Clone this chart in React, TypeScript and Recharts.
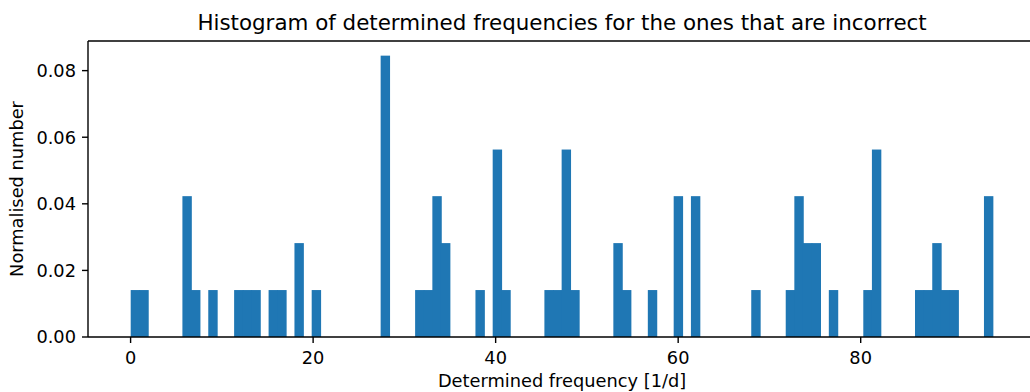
import React from "react"
import { BarChart, Bar, XAxis, YAxis, Label, ReferenceLine } from "recharts"

// histogram bins: 100 bins starting at binStart, width binWidth (1/d)
const binStart = 0.055
const binWidth = 0.9444

// non-empty bins (index) and their normalised height
const binIndex = [
  0, 1, 6, 7, 9, 12, 13, 14, 16, 17, 19, 21, 29, 33, 34, 35, 36, 40, 42, 43,
  48, 49, 50, 51, 56, 57, 60, 63, 65, 72, 76, 77, 78, 79, 81, 85, 86, 91, 92,
  93, 94, 95, 99
]
const density = [
  0.0141, 0.0141, 0.0423, 0.0141, 0.0141, 0.0141, 0.0141, 0.0141, 0.0141, 0.0141,
  0.0282, 0.0141, 0.0845, 0.0141, 0.0141, 0.0423, 0.0282, 0.0141, 0.0563, 0.0141,
  0.0141, 0.0141, 0.0563, 0.0141, 0.0282, 0.0141, 0.0141, 0.0423, 0.0423, 0.0141,
  0.0141, 0.0423, 0.0282, 0.0282, 0.0141, 0.0141, 0.0563, 0.0141, 0.0141, 0.0282,
  0.0141, 0.0141, 0.0423
]

const xTicks = [0, 20, 40, 60, 80]
const yTicks = [0, 0.02, 0.04, 0.06, 0.08]

const data = binIndex.map((b, i) => ({
  freq: binStart + (b + 0.5) * binWidth,
  value: density[i]
}))

const xDomain: [number, number] = [-4.667, 99.22]
const yDomain: [number, number] = [0, 0.0889]

const font = "DejaVu Sans, sans-serif"
const barColor = "#1f77b4"

const chartW = 1040
const chartH = 392
const margin = { top: 41, right: 3.9, left: 0, bottom: 0 }
const yAxisW = 88
const xAxisH = 55

// slight overlap so neighbouring bins don't show hairline seams
const HistBar = (props: any) => {
  const { x, y, width, height } = props
  if (!height) return null
  return <rect x={x - 0.4} y={y} width={width + 0.8} height={height} fill={barColor} />
}

export default function App() {
  const plotW = chartW - margin.left - margin.right - yAxisW
  const pxPerUnit = plotW / (xDomain[1] - xDomain[0])
  const barSize = binWidth * pxPerUnit - 0.01

  return (
    <div style={{ position: "absolute", left: 0, top: 0, width: 1030, height: 392, overflow: "hidden", background: "#fff" }}>
      <BarChart width={chartW} height={chartH} data={data} margin={margin} barCategoryGap={0} barGap={0}>
        <XAxis
          type="number"
          dataKey="freq"
          domain={xDomain}
          allowDataOverflow
          ticks={xTicks}
          height={xAxisH}
          tickSize={6}
          tickMargin={8}
          tick={{ fill: "#000", fontSize: 17.8, fontFamily: font }}
          tickLine={{ stroke: "#000", strokeWidth: 1.4 }}
          axisLine={{ stroke: "#000", strokeWidth: 1.4 }}
        >
          <Label
            value="Determined frequency [1/d]"
            position="insideBottom"
            offset={5}
            fill="#000"
            fontSize={17.8}
            fontFamily={font}
          />
        </XAxis>
        <YAxis
          type="number"
          domain={yDomain}
          allowDataOverflow
          ticks={yTicks}
          width={yAxisW}
          tickSize={6}
          tickMargin={6}
          tickFormatter={(v: number) => v.toFixed(2)}
          tick={{ fill: "#000", fontSize: 17.8, fontFamily: font }}
          tickLine={{ stroke: "#000", strokeWidth: 1.4 }}
          axisLine={{ stroke: "#000", strokeWidth: 1.4 }}
        >
          <Label
            value="Normalised number"
            position="insideLeft"
            angle={-90}
            offset={16.2}
            fill="#000"
            fontSize={17.8}
            fontFamily={font}
            style={{ textAnchor: "middle" }}
          />
        </YAxis>
        <Bar
          dataKey="value"
          fill={barColor}
          barSize={barSize}
          shape={HistBar}
          isAnimationActive={false}
        />
        {/* top spine + title */}
        <ReferenceLine y={yDomain[1]} stroke="#000" strokeWidth={1.4}>
          <Label
            value="Histogram of determined frequencies for the ones that are incorrect"
            position="top"
            offset={11}
            fill="#000"
            fontSize={21.4}
            fontFamily={font}
          />
        </ReferenceLine>
      </BarChart>
    </div>
  )
}
